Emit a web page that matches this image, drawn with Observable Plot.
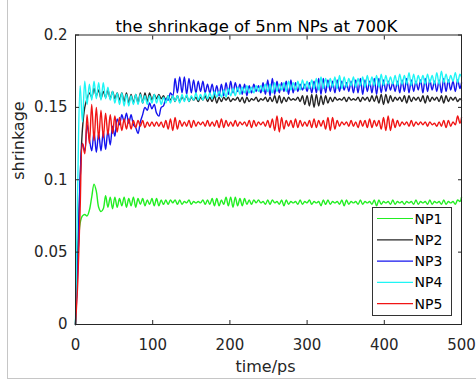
<!DOCTYPE html>
<html>
<head>
<meta charset="utf-8">
<script src="https://cdn.jsdelivr.net/npm/d3@7"></script>
<script src="https://cdn.jsdelivr.net/npm/@observablehq/plot@0.6"></script>
<style>
  html, body { margin: 0; padding: 0; background: #fff; }
  #wrap { position: relative; width: 476px; height: 381px; overflow: hidden; }
  #edge { position: absolute; left: 7px; top: 0; width: 480px; height: 378px;
          border-left: 1px solid #c6c6c6; border-bottom: 1px solid #c6c6c6; pointer-events: none; }
</style>
</head>
<body>
<div id="wrap"><div id="edge"></div></div>
<script>
const title = "the shrinkage of 5nm NPs at 700K";
const xLabel = "time/ps";
const yLabel = "shrinkage";
const xTicks = [0, 100, 200, 300, 400, 500];
const yTicks = [0, 0.05, 0.1, 0.15, 0.2];
const names = ["NP1", "NP2", "NP3", "NP4", "NP5"];
const colors = ["#22ee22", "#262626", "#1414ee", "#1ff5f5", "#f01414"];

const time = [
  0, 3, 6, 9, 12, 15, 18, 21, 24, 27,
  30, 33, 36, 39, 42, 45, 48, 51, 54, 57,
  60, 63, 66, 69, 72, 75, 78, 81, 84, 87,
  90, 93, 96, 99, 102, 105, 108, 111, 114, 117,
  120, 123, 126, 129, 132, 135, 138, 141, 144, 147,
  150, 153, 156, 159, 162, 165, 168, 171, 174, 177,
  180, 183, 186, 189, 192, 195, 198, 201, 204, 207,
  210, 213, 216, 219, 222, 225, 228, 231, 234, 237,
  240, 243, 246, 249, 252, 255, 258, 261, 264, 267,
  270, 273, 276, 279, 282, 285, 288, 291, 294, 297,
  300, 303, 306, 309, 312, 315, 318, 321, 324, 327,
  330, 333, 336, 339, 342, 345, 348, 351, 354, 357,
  360, 363, 366, 369, 372, 375, 378, 381, 384, 387,
  390, 393, 396, 399, 402, 405, 408, 411, 414, 417,
  420, 423, 426, 429, 432, 435, 438, 441, 444, 447,
  450, 453, 456, 459, 462, 465, 468, 471, 474, 477,
  480, 483, 486, 489, 492, 495, 498, 500
];

const np1 = [
  0, 0.045, 0.070, 0.075, 0.076, 0.075, 0.079, 0.088, 0.097, 0.092,
  0.081, 0.078, 0.080, 0.089, 0.081, 0.088, 0.080, 0.088, 0.081, 0.087,
  0.082, 0.088, 0.081, 0.087, 0.082, 0.088, 0.081, 0.087, 0.083, 0.087,
  0.082, 0.086, 0.083, 0.087, 0.082, 0.087, 0.082, 0.086, 0.083, 0.086,
  0.083, 0.086, 0.084, 0.086, 0.083, 0.086, 0.083, 0.085, 0.084, 0.086,
  0.083, 0.085, 0.084, 0.085, 0.084, 0.086, 0.083, 0.086, 0.083, 0.087,
  0.082, 0.087, 0.082, 0.086, 0.083, 0.088, 0.082, 0.088, 0.081, 0.088,
  0.082, 0.087, 0.082, 0.087, 0.083, 0.086, 0.083, 0.086, 0.084, 0.086,
  0.084, 0.085, 0.083, 0.086, 0.083, 0.086, 0.084, 0.085, 0.083, 0.086,
  0.082, 0.086, 0.083, 0.085, 0.084, 0.085, 0.083, 0.086, 0.083, 0.085,
  0.084, 0.086, 0.083, 0.085, 0.084, 0.085, 0.082, 0.086, 0.083, 0.086,
  0.083, 0.085, 0.084, 0.085, 0.083, 0.086, 0.082, 0.086, 0.083, 0.085,
  0.084, 0.085, 0.083, 0.086, 0.083, 0.085, 0.084, 0.085, 0.083, 0.086,
  0.082, 0.086, 0.083, 0.085, 0.084, 0.085, 0.083, 0.086, 0.083, 0.085,
  0.084, 0.085, 0.083, 0.085, 0.084, 0.085, 0.083, 0.086, 0.083, 0.085,
  0.084, 0.085, 0.083, 0.086, 0.083, 0.085, 0.084, 0.085, 0.083, 0.086,
  0.083, 0.085, 0.084, 0.085, 0.083, 0.086, 0.085, 0.088
];

const np2 = [
  0, 0.050, 0.100, 0.135, 0.150, 0.156, 0.160, 0.157, 0.163, 0.158,
  0.162, 0.156, 0.161, 0.157, 0.162, 0.156, 0.161, 0.156, 0.160, 0.155,
  0.160, 0.154, 0.160, 0.153, 0.159, 0.153, 0.159, 0.153, 0.160, 0.153,
  0.160, 0.154, 0.160, 0.155, 0.159, 0.156, 0.159, 0.156, 0.158, 0.155,
  0.158, 0.155, 0.158, 0.154, 0.158, 0.154, 0.157, 0.155, 0.158, 0.154,
  0.157, 0.155, 0.157, 0.154, 0.157, 0.155, 0.158, 0.154, 0.157, 0.154,
  0.158, 0.153, 0.157, 0.154, 0.157, 0.155, 0.157, 0.154, 0.156, 0.155,
  0.157, 0.154, 0.157, 0.153, 0.157, 0.154, 0.156, 0.155, 0.157, 0.154,
  0.156, 0.155, 0.157, 0.154, 0.157, 0.154, 0.158, 0.153, 0.158, 0.153,
  0.157, 0.154, 0.157, 0.155, 0.156, 0.155, 0.157, 0.154, 0.158, 0.152,
  0.158, 0.151, 0.159, 0.150, 0.159, 0.151, 0.158, 0.152, 0.158, 0.153,
  0.157, 0.154, 0.157, 0.155, 0.156, 0.155, 0.157, 0.154, 0.157, 0.155,
  0.156, 0.155, 0.157, 0.154, 0.157, 0.155, 0.157, 0.154, 0.158, 0.154,
  0.158, 0.153, 0.159, 0.152, 0.159, 0.153, 0.158, 0.154, 0.157, 0.155,
  0.157, 0.154, 0.158, 0.153, 0.158, 0.154, 0.157, 0.155, 0.157, 0.154,
  0.158, 0.153, 0.158, 0.154, 0.157, 0.155, 0.157, 0.154, 0.158, 0.153,
  0.158, 0.154, 0.157, 0.155, 0.157, 0.154, 0.156, 0.155
];

const np3 = [
  0, 0.040, 0.100, 0.125, 0.120, 0.138, 0.128, 0.120, 0.133, 0.119,
  0.132, 0.120, 0.133, 0.121, 0.134, 0.124, 0.137, 0.130, 0.142, 0.138,
  0.145, 0.140, 0.146, 0.139, 0.145, 0.138, 0.136, 0.132, 0.140, 0.145,
  0.150, 0.148, 0.153, 0.149, 0.152, 0.146, 0.144, 0.150, 0.151, 0.156,
  0.155, 0.160, 0.158, 0.170, 0.160, 0.171, 0.160, 0.171, 0.159, 0.170,
  0.160, 0.169, 0.160, 0.168, 0.161, 0.168, 0.160, 0.166, 0.160, 0.166,
  0.159, 0.165, 0.158, 0.166, 0.158, 0.167, 0.159, 0.168, 0.160, 0.167,
  0.161, 0.166, 0.159, 0.166, 0.158, 0.165, 0.160, 0.166, 0.161, 0.165,
  0.160, 0.167, 0.159, 0.169, 0.158, 0.170, 0.159, 0.168, 0.160, 0.167,
  0.161, 0.168, 0.159, 0.169, 0.160, 0.167, 0.161, 0.166, 0.162, 0.166,
  0.161, 0.167, 0.160, 0.168, 0.160, 0.170, 0.159, 0.170, 0.160, 0.169,
  0.161, 0.168, 0.160, 0.169, 0.161, 0.168, 0.162, 0.167, 0.161, 0.168,
  0.160, 0.169, 0.160, 0.170, 0.159, 0.169, 0.161, 0.168, 0.160, 0.170,
  0.159, 0.170, 0.160, 0.169, 0.161, 0.168, 0.162, 0.167, 0.161, 0.168,
  0.160, 0.169, 0.161, 0.170, 0.160, 0.169, 0.161, 0.168, 0.162, 0.169,
  0.160, 0.170, 0.161, 0.169, 0.162, 0.168, 0.161, 0.169, 0.160, 0.170,
  0.161, 0.169, 0.162, 0.168, 0.161, 0.169, 0.163, 0.167
];

const np4 = [
  0, 0.100, 0.165, 0.140, 0.168, 0.152, 0.166, 0.155, 0.168, 0.156,
  0.167, 0.155, 0.167, 0.156, 0.164, 0.155, 0.161, 0.153, 0.160, 0.152,
  0.160, 0.151, 0.159, 0.151, 0.158, 0.152, 0.159, 0.152, 0.159, 0.153,
  0.158, 0.152, 0.158, 0.153, 0.159, 0.153, 0.158, 0.152, 0.157, 0.153,
  0.158, 0.153, 0.158, 0.154, 0.158, 0.153, 0.159, 0.154, 0.159, 0.154,
  0.158, 0.155, 0.160, 0.155, 0.159, 0.155, 0.160, 0.156, 0.160, 0.156,
  0.161, 0.157, 0.161, 0.157, 0.162, 0.157, 0.163, 0.158, 0.163, 0.158,
  0.164, 0.159, 0.164, 0.160, 0.165, 0.160, 0.164, 0.160, 0.165, 0.161,
  0.165, 0.161, 0.166, 0.161, 0.166, 0.160, 0.167, 0.161, 0.166, 0.162,
  0.167, 0.161, 0.168, 0.162, 0.167, 0.162, 0.168, 0.162, 0.169, 0.163,
  0.168, 0.163, 0.169, 0.163, 0.170, 0.162, 0.171, 0.163, 0.170, 0.164,
  0.170, 0.164, 0.171, 0.163, 0.172, 0.163, 0.171, 0.164, 0.170, 0.165,
  0.171, 0.164, 0.170, 0.165, 0.171, 0.164, 0.172, 0.165, 0.171, 0.165,
  0.172, 0.164, 0.173, 0.165, 0.172, 0.166, 0.171, 0.166, 0.172, 0.165,
  0.173, 0.166, 0.172, 0.166, 0.174, 0.165, 0.173, 0.166, 0.172, 0.167,
  0.172, 0.166, 0.173, 0.167, 0.172, 0.166, 0.174, 0.166, 0.175, 0.167,
  0.173, 0.167, 0.172, 0.168, 0.174, 0.167, 0.173, 0.171
];

const np5 = [
  0, 0.030, 0.080, 0.125, 0.118, 0.145, 0.125, 0.152, 0.127, 0.150,
  0.128, 0.148, 0.129, 0.146, 0.131, 0.145, 0.132, 0.144, 0.133, 0.143,
  0.134, 0.142, 0.135, 0.142, 0.135, 0.141, 0.136, 0.141, 0.137, 0.141,
  0.136, 0.140, 0.137, 0.140, 0.137, 0.140, 0.137, 0.140, 0.136, 0.141,
  0.135, 0.142, 0.134, 0.143, 0.135, 0.141, 0.137, 0.140, 0.137, 0.141,
  0.136, 0.141, 0.137, 0.140, 0.138, 0.140, 0.137, 0.141, 0.137, 0.140,
  0.137, 0.141, 0.136, 0.142, 0.136, 0.141, 0.137, 0.140, 0.137, 0.141,
  0.137, 0.140, 0.138, 0.140, 0.137, 0.141, 0.136, 0.141, 0.137, 0.140,
  0.138, 0.140, 0.137, 0.141, 0.136, 0.142, 0.134, 0.144, 0.133, 0.143,
  0.135, 0.141, 0.137, 0.141, 0.136, 0.142, 0.136, 0.141, 0.137, 0.140,
  0.137, 0.141, 0.136, 0.142, 0.136, 0.141, 0.137, 0.141, 0.135, 0.143,
  0.134, 0.143, 0.135, 0.141, 0.137, 0.140, 0.138, 0.140, 0.137, 0.141,
  0.137, 0.140, 0.136, 0.141, 0.137, 0.141, 0.136, 0.142, 0.136, 0.141,
  0.137, 0.141, 0.135, 0.143, 0.134, 0.144, 0.134, 0.142, 0.136, 0.141,
  0.137, 0.140, 0.138, 0.140, 0.137, 0.141, 0.137, 0.140, 0.138, 0.140,
  0.138, 0.140, 0.137, 0.140, 0.138, 0.139, 0.137, 0.140, 0.137, 0.141,
  0.136, 0.141, 0.137, 0.140, 0.138, 0.144, 0.139, 0.143
];

const seriesValues = [np1, np2, np3, np4, np5];
const rows = [];
seriesValues.forEach((vals, s) => {
  vals.forEach((v, i) => rows.push({name: names[s], t: time[i], v}));
});

const fmt = d => String(d);
const axisColor = "#262626";
const font = "'DejaVu Sans', Verdana, sans-serif";

const chart = Plot.plot({
  width: 476,
  height: 381,
  marginLeft: 75,
  marginRight: 15,
  marginTop: 34.5,
  marginBottom: 57,
  style: {
    fontFamily: font,
    fontSize: "15px",
    color: axisColor,
    background: "transparent",
    overflow: "visible"
  },
  x: {domain: [0, 500], label: null},
  y: {domain: [0, 0.2], label: null},
  marks: [
    ...names.map((n, s) =>
      Plot.line(rows.filter(r => r.name === n), {
        x: "t", y: "v", stroke: colors[s], strokeWidth: 1.4, curve: "catmull-rom"
      })
    ),
    Plot.frame({stroke: axisColor, strokeWidth: 1}),
    // inward ticks on all four sides
    Plot.axisX(xTicks, {anchor: "bottom", tickSize: 4, dy: -4, fill: "none", stroke: axisColor, label: null}),
    Plot.axisX(xTicks, {anchor: "top", tickSize: 4, dy: 4, fill: "none", stroke: axisColor, label: null}),
    Plot.axisY(yTicks, {anchor: "left", tickSize: 4, dx: 4, fill: "none", stroke: axisColor, label: null}),
    Plot.axisY(yTicks, {anchor: "right", tickSize: 4, dx: -4, fill: "none", stroke: axisColor, label: null}),
    // tick labels
    Plot.axisX(xTicks, {anchor: "bottom", tickSize: 0, tickPadding: 15, tickFormat: fmt, fill: axisColor, label: null}),
    Plot.axisY(yTicks, {anchor: "left", tickSize: 0, tickPadding: 8, tickFormat: fmt, fill: axisColor, label: null}),
    // axis titles and chart title
    Plot.text([xLabel], {frameAnchor: "bottom", dx: -3, dy: 47, fill: axisColor, fontSize: 16}),
    Plot.text([yLabel], {frameAnchor: "left", dx: -57, rotate: -90, fill: axisColor, fontSize: 16}),
    Plot.text([title], {frameAnchor: "top", dx: -12, dy: -15, fill: "#000", fontSize: 16.5})
  ]
});

// legend (MATLAB-style box, lower right)
const svg = d3.select(chart);
const lg = svg.append("g").attr("font-family", font).attr("font-size", 14).attr("text-anchor", "start");
lg.append("rect").attr("x", 372.5).attr("y", 207.5).attr("width", 79).attr("height", 108)
  .attr("fill", "#fff").attr("stroke", "#333").attr("stroke-width", 1);
names.forEach((n, s) => {
  const cy = 218.5 + s * 21.3;
  lg.append("line").attr("x1", 377).attr("x2", 413).attr("y1", cy).attr("y2", cy)
    .attr("stroke", colors[s]).attr("stroke-width", 1.2);
  lg.append("text").attr("x", 414.5).attr("y", cy).attr("dy", "0.36em").attr("fill", "#000").text(n);
});

document.getElementById("wrap").prepend(chart);
</script>
</body>
</html>
